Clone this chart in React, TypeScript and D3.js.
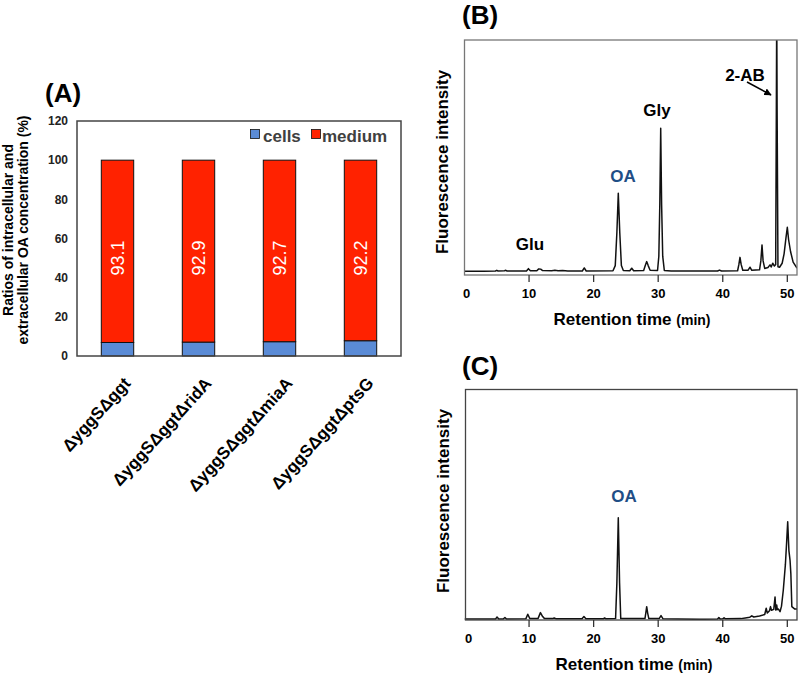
import React from "react";
import * as d3 from "d3";

// ---------- Panel A data ----------
const strains = ["ΔyggSΔggt", "ΔyggSΔggtΔridA", "ΔyggSΔggtΔmiaA", "ΔyggSΔggtΔptsG"];
const mediumPct = [93.1, 92.9, 92.7, 92.2];
const cellsPct = [6.9, 7.1, 7.3, 7.8];
const yTicksA = [0, 20, 40, 60, 80, 100, 120];

// ---------- Panel B data (retention time min, intensity a.u.) ----------
const traceB: [number, number][] = [
  [0, 1.6], [3, 1.6], [4.8, 1.7], [5.0, 2.0], [5.2, 1.7], [6.2, 1.8], [6.4, 2.0], [6.6, 1.7],
  [9.6, 1.7], [9.9, 2.7], [10.2, 1.8], [11.2, 1.8], [11.5, 2.6], [11.8, 2.5], [12.1, 1.9],
  [13.5, 1.8], [14, 2.0], [14.5, 1.8], [15.2, 1.9], [16, 1.7], [18.25, 1.7], [18.55, 3.0], [18.85, 1.7],
  [23.0, 1.8], [23.35, 4], [23.6, 18], [23.82, 34.8], [24.05, 18], [24.3, 4], [24.6, 1.9],
  [25.6, 1.8], [25.9, 2.9], [26.2, 1.8], [27.75, 1.9], [28.0, 4.0], [28.22, 5.7], [28.45, 4.0], [28.75, 2.0],
  [29.9, 1.9], [30.1, 8], [30.25, 30], [30.39, 62.4], [30.53, 30], [30.7, 8], [30.95, 1.9],
  [32, 1.7], [39.2, 1.7], [39.5, 2.1], [39.8, 1.7], [42.3, 1.8], [42.5, 4.5], [42.67, 7.5], [42.85, 4.5],
  [43.1, 2.0], [43.9, 2.0], [44.22, 3.3], [44.5, 2.0], [45.7, 2.2], [45.9, 6], [46.08, 12.8], [46.25, 6],
  [46.5, 2.8], [47.0, 3.2], [47.32, 4.3], [47.5, 3.4], [47.74, 5.0], [48.0, 3.8], [48.2, 4.5],
  [48.3, 70], [48.36, 115], [48.42, 70], [48.55, 3.5], [48.8, 3.3], [49.2, 5], [49.5, 9], [49.8, 16],
  [50.0, 20.3], [50.2, 15], [50.5, 10], [50.9, 5.5], [51.5, 2.9],
];

// ---------- Panel C data ----------
const traceC: [number, number][] = [
  [0, 0.4], [4.8, 0.4], [5.04, 1.3], [5.3, 0.4], [6.0, 0.4], [6.26, 1.1], [6.5, 0.4],
  [9.5, 0.5], [9.8, 2.5], [10.1, 0.7], [11.4, 0.7], [11.76, 3.2], [12.1, 1.5], [12.4, 0.6],
  [13.6, 0.6], [13.9, 0.9], [14.2, 0.5], [18.2, 0.5], [18.5, 1.5], [18.8, 0.5],
  [21.5, 0.5], [21.7, 0.9], [21.9, 0.5], [23.4, 0.6], [23.6, 16], [23.82, 44.4], [24.02, 16], [24.2, 0.6],
  [27.95, 0.6], [28.08, 3], [28.22, 5.8], [28.37, 3], [28.55, 0.6], [30.15, 0.6], [30.44, 1.9], [30.75, 0.5],
  [33, 0.4], [36.4, 0.3], [39.2, 0.4], [39.4, 1.1], [39.6, 0.4], [40.0, 0.5], [40.2, 1.0], [40.4, 0.5],
  [42.8, 0.6], [43.5, 0.9], [44.2, 1.2], [44.5, 1.8], [44.8, 1.3], [45.7, 1.7], [46.5, 2.4], [46.73, 5.1],
  [46.9, 3.0], [47.24, 4.0], [47.4, 5.8], [47.55, 4.2], [47.9, 4.6], [48.1, 10], [48.22, 4.3], [48.36, 6.5],
  [48.45, 4.5], [48.6, 4.8], [48.87, 3.6], [49.1, 6], [49.38, 13], [49.7, 24], [49.9, 34], [50.06, 42.6],
  [50.25, 30], [50.42, 26], [50.55, 20], [50.7, 5.8], [51.12, 4.8], [51.5, 4.8],
];
const xTicksBC = [0, 10, 20, 30, 40, 50];

const FONT = "'Liberation Sans', Arial, Helvetica, sans-serif";
const BLUE = "#5a8bd6";
const RED = "#ff2200";
const OA_COLOR = "#1f4e86";

export default function App() {
  // Panel A scales
  const xA = d3.scaleBand<string>().domain(strains).range([77, 401]).paddingInner(0.6).paddingOuter(0.3);
  const yA = d3.scaleLinear().domain([0, 120]).range([356, 121]);

  // Panels B and C scales
  const xB = d3.scaleLinear().domain([0, 51.5]).range([464.5, 797]);
  const yB = d3.scaleLinear().domain([0, 100]).range([275, 40]);
  const xC = d3.scaleLinear().domain([0, 51.5]).range([464.5, 797]);
  const yC = d3.scaleLinear().domain([0, 100]).range([620, 389.5]);

  const lineB = d3.line<[number, number]>().x((d) => xB(d[0])).y((d) => yB(d[1]));
  const lineC = d3.line<[number, number]>().x((d) => xC(d[0])).y((d) => yC(d[1]));

  return (
    <svg width={800} height={673} style={{ position: "absolute", left: 0, top: 0, background: "#fff" }} fontFamily={FONT}>
      <defs>
        <clipPath id="clipB">
          <rect x={464.5} y={40} width={332.5} height={235} />
        </clipPath>
        <clipPath id="clipC">
          <rect x={464.5} y={389.5} width={332.5} height={230.5} />
        </clipPath>
        <marker id="arrowhead" viewBox="0 0 10 10" refX="9" refY="5" markerWidth="5" markerHeight="5" orient="auto">
          <path d="M0,0 L10,5 L0,10 z" fill="#000" />
        </marker>
      </defs>

      {/* ---------------- Panel A ---------------- */}
      <text x={45} y={102} fontSize={26} fontWeight="bold">(A)</text>
      {yTicksA.map((t) => (
        <text key={t} x={68} y={yA(t)} dy="0.35em" textAnchor="end" fontSize={12} fontWeight="bold" fill="#222">
          {t}
        </text>
      ))}
      <g transform={`translate(13, 230) rotate(-90)`}>
        <text textAnchor="middle" fontSize={14} fontWeight="bold">Ratios of intracellular and</text>
        <text y={15} textAnchor="middle" fontSize={14} fontWeight="bold">extracellular OA concentration (%)</text>
      </g>
      {strains.map((s, i) => {
        const x0 = xA(s)!;
        const w = xA.bandwidth();
        return (
          <g key={s}>
            <rect x={x0} y={yA(cellsPct[i])} width={w} height={yA(0) - yA(cellsPct[i])} fill={BLUE} stroke="#111" strokeWidth={1} />
            <rect x={x0} y={yA(cellsPct[i] + mediumPct[i])} width={w} height={yA(cellsPct[i]) - yA(cellsPct[i] + mediumPct[i])} fill={RED} stroke="#111" strokeWidth={1} />
            <text
              transform={`translate(${x0 + w / 2}, ${yA(50)}) rotate(-90)`}
              dy="0.35em"
              textAnchor="middle"
              fontSize={18}
              fill="#fff"
            >
              {mediumPct[i].toFixed(1)}
            </text>
            <text
              transform={`translate(${x0 + w / 2 + 14}, 384) rotate(-48)`}
              textAnchor="end"
              fontSize={17}
              fontWeight="bold"
            >
              {s}
            </text>
          </g>
        );
      })}
      <rect x={77} y={121} width={324} height={235} fill="none" stroke="#444" strokeWidth={1.5} />
      {/* legend */}
      <rect x={250.5} y={129.5} width={9} height={9} fill={BLUE} stroke="#111" strokeWidth={0.8} />
      <text x={263} y={141.5} fontSize={17} fontWeight="bold" fill="#404040">cells</text>
      <rect x={311.5} y={129.5} width={9} height={9} fill={RED} stroke="#111" strokeWidth={0.8} />
      <text x={322} y={141.5} fontSize={17} fontWeight="bold" fill="#404040">medium</text>

      {/* ---------------- Panel B ---------------- */}
      <text x={462} y={24} fontSize={26} fontWeight="bold">(B)</text>
      <path d={lineB(traceB) ?? ""} fill="none" stroke="#111" strokeWidth={1.5} strokeLinejoin="round" clipPath="url(#clipB)" />
      <rect x={464.5} y={40} width={332.5} height={235} fill="none" stroke="#777" strokeWidth={1.3} />
      {xTicksBC.map((t) => (
        <g key={t}>
          {t > 0 && <line x1={xB(t)} x2={xB(t)} y1={275} y2={282} stroke="#333" strokeWidth={1.3} />}
          <text x={xB(t) + (t === 0 ? 2 : 0)} y={298} textAnchor="middle" fontSize={13} fontWeight="bold">{t}</text>
        </g>
      ))}
      <text x={632} y={325} textAnchor="middle" fontWeight="bold">
        <tspan fontSize={17}>Retention time </tspan>
        <tspan fontSize={14}>(min)</tspan>
      </text>
      <text transform="translate(448, 162) rotate(-90)" textAnchor="middle" fontSize={17} fontWeight="bold">
        Fluorescence intensity
      </text>
      <text x={530} y={250} textAnchor="middle" fontSize={17} fontWeight="bold">Glu</text>
      <text x={623} y={182} textAnchor="middle" fontSize={17} fontWeight="bold" fill={OA_COLOR}>OA</text>
      <text x={657} y={116} textAnchor="middle" fontSize={17} fontWeight="bold">Gly</text>
      <text x={745} y={81} textAnchor="middle" fontSize={17} fontWeight="bold">2-AB</text>
      <line x1={747} y1={82} x2={771} y2={95} stroke="#000" strokeWidth={1.5} markerEnd="url(#arrowhead)" />

      {/* ---------------- Panel C ---------------- */}
      <text x={462} y={375} fontSize={26} fontWeight="bold">(C)</text>
      <path d={lineC(traceC) ?? ""} fill="none" stroke="#111" strokeWidth={1.5} strokeLinejoin="round" clipPath="url(#clipC)" />
      <rect x={465.5} y={389.5} width={331.5} height={230.5} fill="none" stroke="#444" strokeWidth={1.3} />
      {xTicksBC.map((t) => (
        <g key={t}>
          {t > 0 && <line x1={xC(t)} x2={xC(t)} y1={620} y2={627} stroke="#333" strokeWidth={1.3} />}
          <text x={xC(t) + (t === 0 ? 4 : 0)} y={643} textAnchor="middle" fontSize={13} fontWeight="bold">{t}</text>
        </g>
      ))}
      <text x={634} y={670} textAnchor="middle" fontWeight="bold">
        <tspan fontSize={17}>Retention time </tspan>
        <tspan fontSize={14}>(min)</tspan>
      </text>
      <text transform="translate(449, 501) rotate(-90)" textAnchor="middle" fontSize={17} fontWeight="bold">
        Fluorescence intensity
      </text>
      <text x={624} y={502} textAnchor="middle" fontSize={17} fontWeight="bold" fill={OA_COLOR}>OA</text>
    </svg>
  );
}
